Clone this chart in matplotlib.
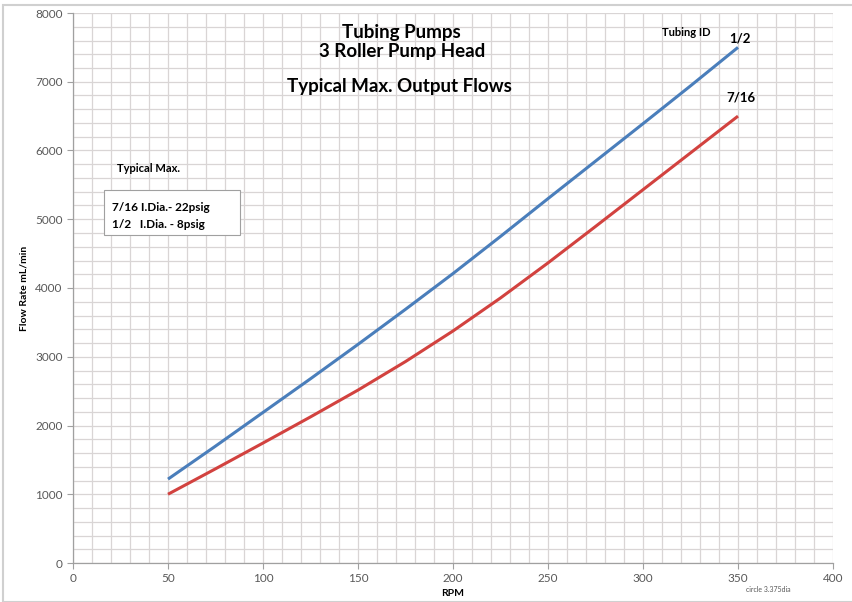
import matplotlib
matplotlib.use("Agg")
import matplotlib.pyplot as plt
from matplotlib.ticker import MultipleLocator
from matplotlib.patches import Rectangle

rpm = [50, 75, 100, 125, 150, 175, 200, 225, 250, 275, 300, 325, 350]
flow_half = [1220, 1700, 2190, 2680, 3180, 3690, 4210, 4750, 5300, 5845, 6390, 6940, 7500]
flow_7_16 = [1000, 1370, 1745, 2125, 2515, 2930, 3375, 3855, 4365, 4895, 5430, 5965, 6500]
x_ticks = [0, 50, 100, 150, 200, 250, 300, 350, 400]
y_ticks = [0, 1000, 2000, 3000, 4000, 5000, 6000, 7000, 8000]

plt.rcParams['font.family'] = ['Lato', 'DejaVu Sans']

fig = plt.figure(figsize=(8.53, 6.02), dpi=100)
ax = fig.add_axes([73/853, 39/602, 760/853, 550/602])

grid_c = '#d9d5d5'
ax.set_xlim(0, 400)
ax.set_ylim(0, 8000)
ax.xaxis.set_major_locator(MultipleLocator(50))
ax.xaxis.set_minor_locator(MultipleLocator(10))
ax.yaxis.set_major_locator(MultipleLocator(1000))
ax.yaxis.set_minor_locator(MultipleLocator(200))
ax.grid(True, which='both', color=grid_c, linewidth=0.9)
ax.set_axisbelow(True)
ax.set_xticks(x_ticks)
ax.set_yticks(y_ticks)
ax.tick_params(which='minor', length=0)
ax.tick_params(which='major', length=4, color='#a0a0a0', labelcolor='#595959', labelsize=8.5)
for s in ['top', 'right']:
    ax.spines[s].set_visible(False)
for s in ['left', 'bottom']:
    ax.spines[s].set_color('#a0a0a0')
    ax.spines[s].set_linewidth(0.9)

ax.plot(rpm, flow_half, color='#4a7ebb', linewidth=2.2, solid_capstyle='butt')
ax.plot(rpm, flow_7_16, color='#d2423f', linewidth=2.2, solid_capstyle='butt')

ax.set_xlabel('RPM', fontsize=7.5, fontweight='bold', labelpad=3)
ax.set_ylabel('Flow Rate mL/min', fontsize=7.5, fontweight='bold', labelpad=5)

ax.text(173, 7640, 'Tubing Pumps', ha='center', va='baseline', fontsize=13.5, fontweight='bold')
ax.text(173, 7355, '3 Roller Pump Head', ha='center', va='baseline', fontsize=13.5, fontweight='bold')
ax.text(172, 6850, 'Typical Max. Output Flows', ha='center', va='baseline', fontsize=13.5, fontweight='bold')
ax.text(322.6, 7718, 'Tubing ID', ha='center', va='center', fontsize=8, fontweight='bold')
ax.text(351, 7630, '1/2', ha='center', va='center', fontsize=9.5, fontweight='bold')
ax.text(351.6, 6773, '7/16', ha='center', va='center', fontsize=9.5, fontweight='bold')
ax.text(39.5, 5741, 'Typical Max.', ha='center', va='center', fontsize=8, fontweight='bold')
ax.add_patch(Rectangle((16.3, 4767), 71.6, 654, fill=True, facecolor='white',
                       edgecolor='#a0a0a0', linewidth=0.8))
ax.text(20.5, 5174, '7/16 I.Dia.- 22psig', ha='left', va='center', fontsize=8.5, fontweight='bold')
ax.text(20.5, 4927, '1/2   I.Dia. - 8psig', ha='left', va='center', fontsize=8.5, fontweight='bold')

fig.text(768/853, 1 - 590/602, 'circle 3.375dia', ha='center', va='center', fontsize=5, color='#595959')
fig.add_artist(Rectangle((3/853, 0), 1, 1 - 5/602, transform=fig.transFigure, fill=False,
                         edgecolor='#d0d0d0', linewidth=1.5))

fig.savefig('out.png', dpi=100)
